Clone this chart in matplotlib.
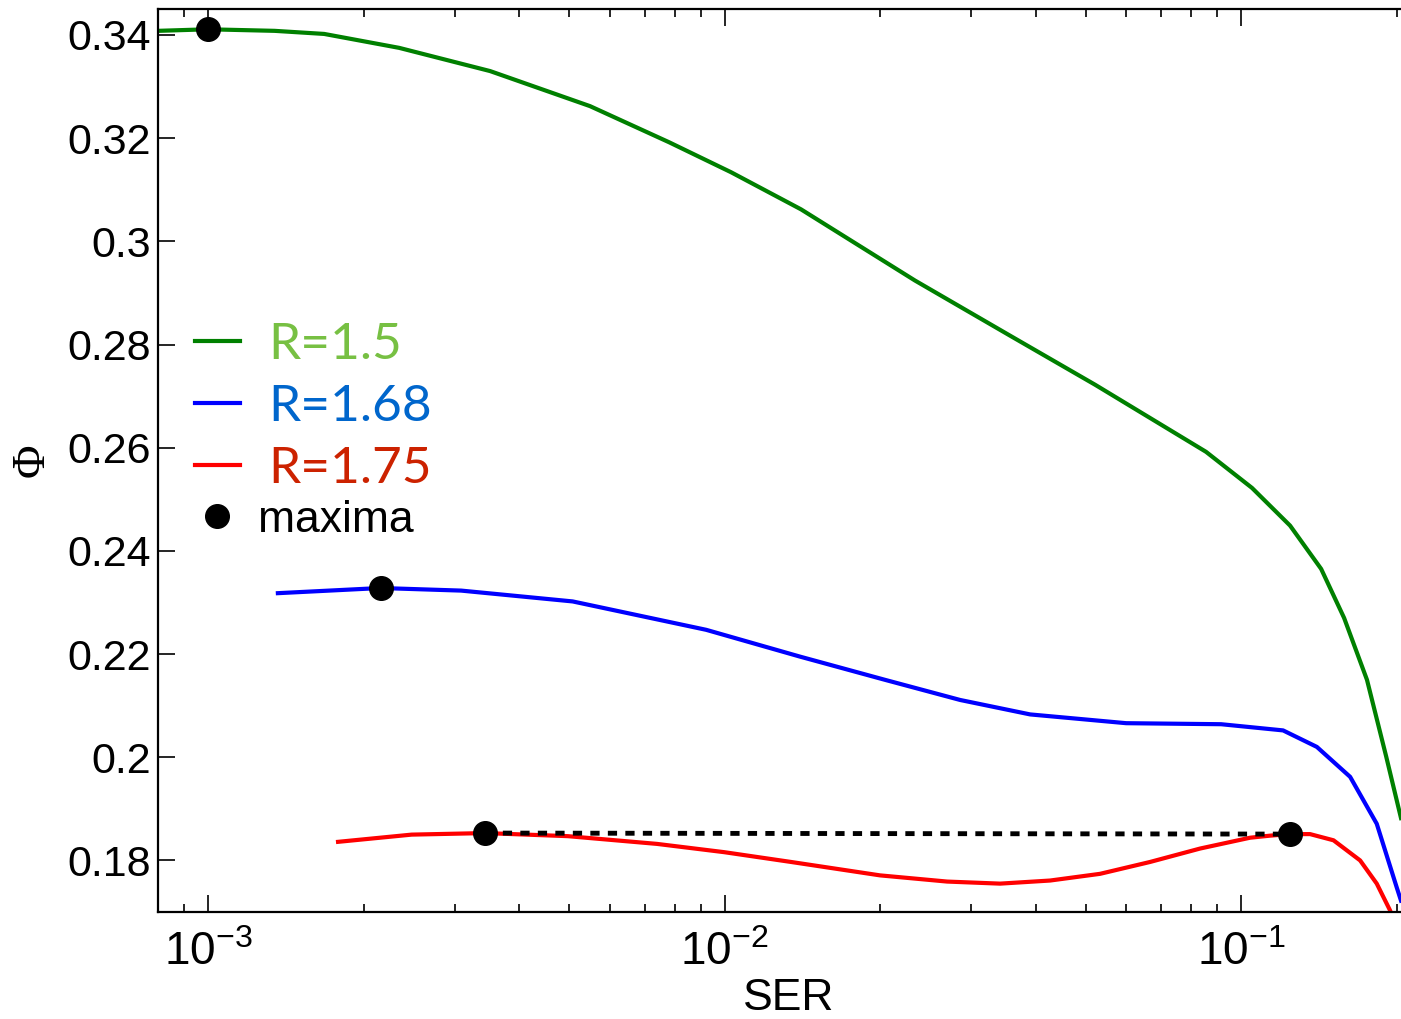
import numpy as np
import matplotlib
matplotlib.use('Agg')
import matplotlib.pyplot as plt
from matplotlib.lines import Line2D
from matplotlib.ticker import LogLocator, FixedLocator

plt.rcParams['font.family'] = ['Liberation Sans', 'DejaVu Sans']
plt.rcParams['mathtext.default'] = 'regular'

# curves
ser_15 = [8.0e-4, 1.0e-3, 1.345e-3, 1.678e-3, 2.344e-3, 3.516e-3, 5.49e-3, 7.81e-3,
          0.01029, 0.01406, 0.02337, 0.03587, 0.05217, 0.08553, 0.1050, 0.1244,
          0.1429, 0.1583, 0.1753, 0.1909, 0.204]
phi_15 = [0.3408, 0.3411, 0.3408, 0.3402, 0.3375, 0.3330, 0.3262, 0.3192,
          0.3134, 0.3062, 0.2924, 0.2816, 0.2722, 0.2592, 0.2522, 0.2449,
          0.2365, 0.2270, 0.2150, 0.2002, 0.1882]

ser_168 = [1.365e-3, 2.158e-3, 3.09e-3, 5.08e-3, 9.21e-3, 0.0140, 0.02045, 0.02858,
           0.03904, 0.0599, 0.09148, 0.1206, 0.1402, 0.1626, 0.1831, 0.2001, 0.204]
phi_168 = [0.2318, 0.2328, 0.2323, 0.2302, 0.2247, 0.2195, 0.2150, 0.2111,
           0.2083, 0.2066, 0.2064, 0.2052, 0.2020, 0.1962, 0.1871, 0.1748, 0.1722]

ser_175 = [1.785e-3, 2.478e-3, 3.442e-3, 4.973e-3, 7.40e-3, 9.98e-3, 0.01345, 0.0200,
           0.02697, 0.03415, 0.04268, 0.05333, 0.06665, 0.08329, 0.1041, 0.1138,
           0.1241, 0.1360, 0.1510, 0.1700, 0.1831, 0.1943, 0.1965]
phi_175 = [0.1836, 0.1850, 0.1853, 0.1847, 0.1832, 0.1816, 0.1797, 0.1771,
           0.1759, 0.1755, 0.1761, 0.1774, 0.1797, 0.1823, 0.1844, 0.1848,
           0.1851, 0.1851, 0.1839, 0.1800, 0.1755, 0.1703, 0.1690]

max_ser = [1.0e-3, 2.158e-3, 3.442e-3, 0.1241]
max_phi = [0.3411, 0.2328, 0.1853, 0.1851]

fig = plt.figure(figsize=(14.01, 10.19), dpi=100)
ax = fig.add_axes([0.1128, 0.105, 0.8872, 0.886])

ax.plot(ser_15, phi_15, color='#008000', lw=3)
ax.plot(ser_168, phi_168, color='#0000ff', lw=3)
ax.plot(ser_175, phi_175, color='#ff0000', lw=3)
ax.plot([max_ser[2], max_ser[3]], [max_phi[2], max_phi[3]], color='black', lw=3.5,
        ls=(0, (1.9, 1.7)))
ax.plot(max_ser, max_phi, 'o', color='black', ms=17, zorder=5)

ax.set_xscale('log')
ax.set_xlim(8.0e-4, 0.204)
ax.set_ylim(0.17, 0.345)
ax.yaxis.set_major_locator(FixedLocator([0.18, 0.2, 0.22, 0.24, 0.26, 0.28, 0.3, 0.32, 0.34]))
ax.set_yticklabels(['0.18', '0.2', '0.22', '0.24', '0.26', '0.28', '0.3', '0.32', '0.34'])
ax.xaxis.set_major_locator(LogLocator(base=10))
ax.xaxis.set_minor_locator(LogLocator(base=10, subs=np.arange(2, 10)))
ax.tick_params(which='both', direction='in', top=True, right=False, width=1.2)
ax.tick_params(which='major', length=12)
ax.tick_params(which='minor', length=6)
ax.tick_params(axis='y', labelsize=31, pad=5)
ax.tick_params(axis='x', labelsize=33, pad=14)
for s in ax.spines.values():
    s.set_linewidth(1.6)
ax.spines['right'].set_visible(False)

ax.set_xlabel('SER', fontsize=32)
ax.xaxis.set_label_coords(0.507, -0.073)
ax.set_ylabel('Φ', fontsize=33, family=['Liberation Serif', 'DejaVu Serif'], va='center')
ax.yaxis.set_label_coords(-0.101, 0.5)

line_handles = [Line2D([], [], color='#008000', lw=3),
                Line2D([], [], color='#0000ff', lw=3),
                Line2D([], [], color='#ff0000', lw=3)]
line_labels = ['R=1.5', 'R=1.68', 'R=1.75']
leg1 = ax.legend(line_handles, line_labels, loc='center left',
                 bbox_to_anchor=(0.0298, 0.5593), frameon=False, borderpad=0,
                 borderaxespad=0, handlelength=0.875, handletextpad=0.545,
                 labelspacing=0.31, prop={'family': ['Lato', 'DejaVu Sans'], 'size': 37})
for t, c in zip(leg1.get_texts(), ['#77c043', '#0066cc', '#cc2200']):
    t.set_color(c)
ax.add_artist(leg1)

ax.legend([Line2D([], [], marker='o', color='black', ls='none', ms=17)], ['maxima'],
          loc='center left', bbox_to_anchor=(0.0296, 0.4341), frameon=False,
          borderpad=0, borderaxespad=0, handlelength=1.0, handletextpad=0.42,
          fontsize=32)

fig.savefig('out.png', dpi=100)
